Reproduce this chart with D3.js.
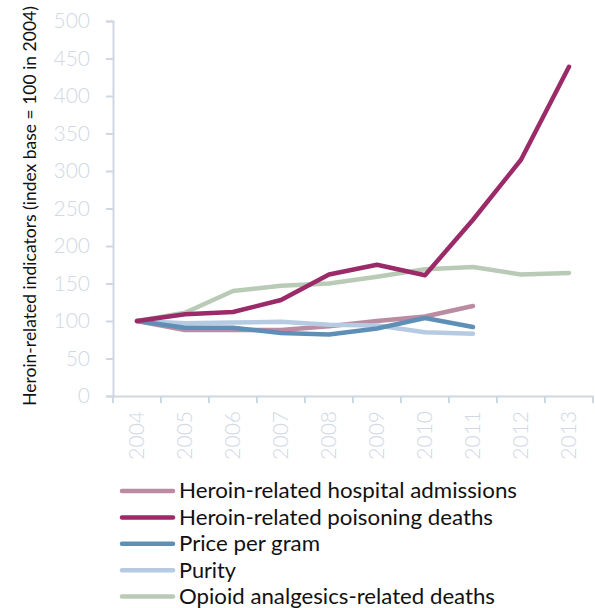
<!DOCTYPE html>
<html><head><meta charset="utf-8">
<script src="https://cdn.jsdelivr.net/npm/d3@7"></script>
<style>body{margin:0;background:#fff}svg{display:block}</style>
</head><body>
<svg id="c" width="595" height="608"></svg>
<script>
const years = ["2004","2005","2006","2007","2008","2009","2010","2011","2012","2013"];
const yTicks = [0,50,100,150,200,250,300,350,400,450,500];
const seriesNames = ["Heroin-related hospital admissions","Heroin-related poisoning deaths","Price per gram","Purity","Opioid analgesics-related deaths"];
const seriesColors = ["#bb8ba2","#9b2b68","#5e8fb6","#b6cbe2","#b9cbb6"];
const hospital = [100,88,88,88,93,100,106,120];
const poisoning = [100,109,112,128,162,175,161,235,315,439];
const price = [100,91,91,84,82,90,104,92];
const purity = [100,97,98,99,95,94,85,83];
const opioid = [100,111,140,147,150,159,169,172,162,164];
const seriesValues = [hospital,poisoning,price,purity,opioid];
const drawOrder = [4,0,3,2,1];
const legendLengths = [338,314,141,57,316];

const svg = d3.select("#c");
const font = "Lato, 'Open Sans', sans-serif";
const axisCol = "#cfd7e2";
const x = d3.scaleBand().domain(years).range([113,593]);
const y = d3.scaleLinear().domain([0,500]).range([396,21]);

const ya = svg.append("g").attr("transform","translate(113,0)")
  .call(d3.axisLeft(y).tickValues(yTicks).tickSize(7).tickPadding(16));
ya.select(".domain").attr("stroke",axisCol).attr("stroke-width",2);
ya.selectAll(".tick line").attr("stroke",axisCol).attr("stroke-width",2);
ya.selectAll("text").attr("fill","#cfd8e4").style("font-family",font).style("font-weight",300).style("font-size","21px");

const xa = svg.append("g").attr("transform","translate(0,396)")
  .call(d3.axisBottom(x).tickSize(0).tickSizeOuter(0));
xa.select(".domain").attr("stroke",axisCol).attr("stroke-width",2);
xa.selectAll(".tick line").remove();
xa.selectAll(".tick text").attr("fill","#cfd8e4").style("font-family",font).style("font-weight",300).style("font-size","21px")
  .attr("transform","rotate(-90)").attr("text-anchor","end").attr("x",-15).attr("y",0).attr("dy","0.35em");
xa.selectAll(".bt").data(years.concat(["end"])).enter().append("line")
  .attr("x1",(d,i)=>i<years.length?x(d):x.range()[1]).attr("x2",(d,i)=>i<years.length?x(d):x.range()[1])
  .attr("y1",0).attr("y2",7).attr("stroke",axisCol).attr("stroke-width",2);

const line = d3.line().x((d,i)=>x(years[i])+x.bandwidth()/2).y(d=>y(d));
drawOrder.forEach(k=>{
  svg.append("path").datum(seriesValues[k]).attr("d",line).attr("fill","none")
    .attr("stroke",seriesColors[k]).attr("stroke-width",4.5).attr("stroke-linecap","round").attr("stroke-linejoin","round");
});

svg.append("text").attr("transform","translate(30,206) rotate(-90)").attr("text-anchor","middle")
  .attr("dy","0.35em").style("font-family",font).style("font-size","17.5px").attr("fill","#111")
  .text("Heroin-related indicators (index base = 100 in 2004)");

const lg = svg.append("g");
seriesNames.forEach((n,i)=>{
  const cy = 491 + i*26.4;
  lg.append("line").attr("x1",122).attr("x2",173).attr("y1",cy).attr("y2",cy)
    .attr("stroke",seriesColors[i]).attr("stroke-width",4.5).attr("stroke-linecap","round");
  lg.append("text").attr("x",179).attr("y",cy).attr("dy","0.35em").style("font-family",font)
    .style("font-size","21px").attr("fill","#111")
    .attr("textLength",legendLengths[i]).attr("lengthAdjust","spacingAndGlyphs").text(n);
});
</script>
</body></html>
